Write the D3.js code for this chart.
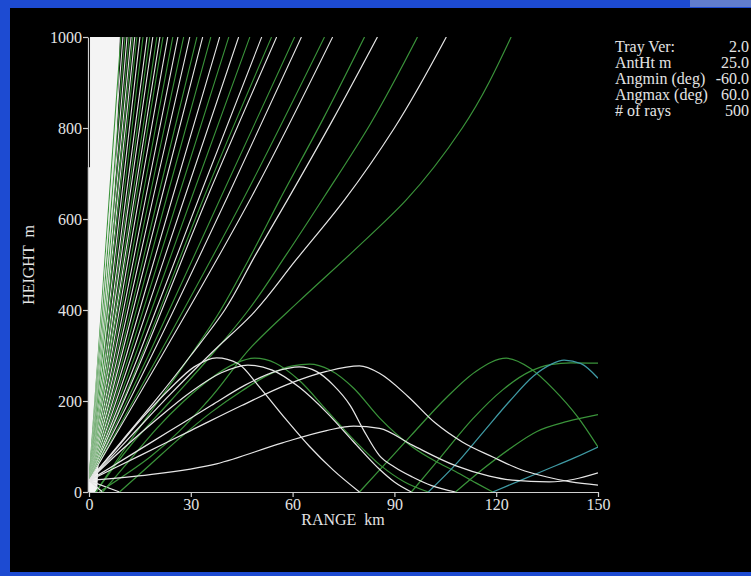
<!DOCTYPE html>
<html>
<head>
<meta charset="utf-8">
<script src="https://cdn.jsdelivr.net/npm/d3@7"></script>
<style>
  html, body { margin: 0; padding: 0; background: #000; }
  svg { display: block; }
  text { font-family: "Liberation Serif", "Times New Roman", serif; fill: #e4e4e4; }
</style>
</head>
<body>
<svg id="chart" width="751" height="576"></svg>
<script>
// ---- Axis ticks -----------------------------------------------------------
const rangeTicks = [0, 30, 60, 90, 120, 150];          // km
const heightTicks = [0, 200, 400, 600, 800, 1000];     // m

// ---- Run parameters shown in the side panel -------------------------------
const infoLabels = ["Tray Ver:", "AntHt m", "Angmin (deg)", "Angmax (deg)", "# of rays"];
const infoValues = ["2.0", "25.0", "-60.0", "60.0", "500"];

// ---- Saturated area where the steep rays overlap (km, m) -------------------
const denseFanEdge = [[-0.35, 0], [2.4, 0], [3.8, 200], [6.8, 554], [8.2, 774], [9.1, 1000],
                      [0.3, 1000], [0.3, 714], [-0.35, 714]];

// ---- Escaping rays: range (km) where each ray passes these heights ---------
const fanHeights = [25, 300, 650, 1000];
const fanRangeKm = [
  [0, 2.7, 6.0, 9.4], [0, 2.85, 6.4, 10.0], [0, 3.0, 6.8, 10.6], [0, 3.2, 7.2, 11.2],
  [0, 3.35, 7.55, 11.8], [0, 3.5, 7.9, 12.4], [0, 3.7, 8.25, 12.9], [0, 3.85, 8.6, 13.5],
  [0, 4.0, 9.0, 14.1], [0, 4.3, 9.6, 15.0], [0, 4.5, 10.2, 15.9], [0, 4.9, 10.9, 17.1],
  [0, 5.1, 11.5, 17.9], [0, 5.4, 12.0, 18.8], [0, 5.7, 12.8, 20.0], [0, 6.0, 13.4, 20.9],
  [0, 6.2, 14.0, 21.8], [0, 6.6, 14.8, 23.2], [0, 7.0, 15.8, 24.7], [0, 7.5, 16.8, 26.2],
  [0, 8.0, 17.9, 27.9], [0, 8.5, 19.0, 29.7], [0, 9.1, 20.4, 31.8], [0, 9.6, 21.5, 33.5],
  [0, 10.3, 23.0, 35.9], [0, 11.0, 24.7, 38.5], [0, 11.8, 26.4, 41.2], [0, 12.6, 28.3, 44.1],
  [0, 13.6, 30.4, 47.4], [0, 14.6, 32.6, 50.9], [0, 15.5, 34.0, 53.8], [0, 16.0, 35.0, 55.3],
  [0, 17.5, 39.0, 60.6], [0, 18.5, 40.9, 62.6], [0, 20.5, 45.9, 69.4], [0, 21.5, 48.0, 71.8]
];
// g = ray reflected once from the ground, w = direct ray
const fanKind = ["g","w","g","w","g","w","g","w","g","w","g","w","g","w","g","w","g","w",
                 "g","w","g","w","g","w","g","w","g","w","g","w","g","w","g","w","g","w"];

// Lowest escaping rays (km, m)
const escape1 = [[2, 0], [11, 100], [20, 195], [29, 290], [38, 390], [47, 510], [56.2, 642], [69, 820], [81.2, 1000]];
const escape2 = [[0, 25], [10, 115], [20, 205], [30, 300], [40, 400], [49, 520], [58.5, 642], [72, 820], [85, 1000]];
const escape3 = [[2, 0], [12, 100], [24, 200], [36, 300], [47, 400], [58, 520], [69.4, 650], [83, 810], [96.8, 1000]];
const escape4 = [[0, 25], [12, 120], [24, 215], [36, 305], [48, 390], [61, 510], [75.3, 642], [90, 800], [105.3, 1000]];
const escape5 = [[3, 0], [18, 77], [35, 200], [48, 320], [62, 420], [78, 530], [93.5, 642], [110, 800], [124.4, 1000]];

// Trapped rays (km, m): one leg per ground hop
const downLeg1 = [[0, 25], [4, 0]];
const downLeg2 = [[0, 25], [9, 0]];
const hopA  = [[0, 25], [8, 95], [16, 165], [24, 228], [31, 275], [37.6, 295], [44, 282], [50.3, 230], [58, 160], [65, 100], [72, 48], [79.7, 0]];
const hopA2 = [[79.7, 0], [85.6, 48], [95, 125], [105, 205], [114, 265], [123, 294], [130, 272], [137, 225], [144, 165], [150, 99]];
const hopB  = [[0, 25], [10, 95], [20, 160], [30, 220], [39, 262], [46.8, 279], [54, 268], [62, 230], [70, 175], [78, 110], [85.6, 50], [90, 22], [95, 0]];
const hopB2 = [[95, 0], [104, 80], [113, 160], [122, 225], [130, 265], [136, 280], [142, 284], [150, 283]];
const hopC  = [[4, 0], [12, 70], [20, 140], [28, 200], [36, 250], [43, 282], [48.8, 294], [55, 283], [62, 245], [70, 180], [78, 115], [86, 58], [93, 22], [100, 0]];
const hopC2 = [[100, 0], [108, 60], [116, 130], [124, 200], [131, 255], [136, 280], [140, 290], [145, 282], [150, 250]];
const hopD  = [[0, 25], [12, 80], [24, 135], [36, 190], [46, 235], [55, 265], [62, 275], [67, 265], [72, 235], [77, 190], [81, 135], [85.6, 80], [90, 55], [95.3, 33], [101, 14], [108, 0]];
const hopD2 = [[108, 0], [116, 50], [124, 95], [132, 133], [141, 155], [150, 170]];
const hopE  = [[9, 0], [18, 60], [27, 120], [36, 175], [45, 222], [53, 258], [60, 277], [65, 281], [71, 268], [78, 228], [85.6, 163], [95.3, 99], [102, 68], [108, 45], [114, 20], [119, 0]];
const hopE2 = [[119, 0], [127, 25], [135, 50], [143, 75], [150, 99]];
const hopF  = [[0, 25], [15, 80], [30, 135], [45, 190], [58, 235], [70, 265], [79.7, 277], [85.6, 261], [94, 210], [102, 152], [110, 110], [119, 77], [127, 50], [135, 33], [142, 22], [150, 15]];
const hopG  = [[0, 25], [18, 38], [37.6, 62], [57, 108], [70, 135], [78, 145], [85.6, 140], [95.3, 103], [108, 58], [118, 35], [124.7, 26], [135.6, 22], [143, 28], [150, 42]];

// ---- Drawing ----------------------------------------------------------------
const W = 751, H = 576;
const svg = d3.select("#chart");

const rayColor = { w: "#e6e6e6", g: "#3a933a", c: "#3f9aa4" };

// window frame
svg.append("rect").attr("width", W).attr("height", H).attr("fill", "#1d4bd2");
svg.append("rect").attr("x", 690).attr("y", 0).attr("width", 61).attr("height", 7).attr("fill", "#8f9fc8").attr("opacity", 0.6);
svg.append("rect").attr("x", 10).attr("y", 8).attr("width", W - 10).attr("height", 564).attr("fill", "#000");

const x = d3.scaleLinear().domain([0, 150]).range([89, 598]);
const y = d3.scaleLinear().domain([0, 1000]).range([492, 37]);

svg.append("clipPath").attr("id", "plotClip")
  .append("rect")
  .attr("x", x(0) - 3).attr("y", y(1000))
  .attr("width", x(150) - x(0) + 3).attr("height", y(0) - y(1000) + 1);

const plot = svg.append("g").attr("clip-path", "url(#plotClip)");

// saturated fan core
plot.append("path")
  .datum(denseFanEdge)
  .attr("d", d3.line().x(d => x(d[0])).y(d => y(d[1])))
  .attr("fill", "#f4f4f4");

const lineX = d3.line().x(d => x(d[0])).y(d => y(d[1])).curve(d3.curveMonotoneX);
const lineY = d3.line().x(d => x(d[0])).y(d => y(d[1])).curve(d3.curveMonotoneY);

// steep escaping rays
fanRangeKm.forEach((r, i) => {
  const pts = r.map((km, j) => [km, fanHeights[j]]);
  plot.append("path")
    .datum(pts)
    .attr("d", lineY)
    .attr("fill", "none")
    .attr("stroke", rayColor[fanKind[i]])
    .attr("stroke-width", 1.1);
});

// low escaping rays
[[escape1, "g"], [escape2, "w"], [escape3, "g"], [escape4, "w"], [escape5, "g"]].forEach(([pts, k]) => {
  plot.append("path")
    .datum(pts)
    .attr("d", lineY)
    .attr("fill", "none")
    .attr("stroke", rayColor[k])
    .attr("stroke-width", 1.2);
});

// trapped rays
const trapped = [
  [downLeg1, "w"], [downLeg2, "w"],
  [hopC, "g"], [hopE, "g"], [hopA2, "g"], [hopB2, "g"], [hopD2, "g"],
  [hopC2, "c"], [hopE2, "c"],
  [hopA, "w"], [hopB, "w"], [hopD, "w"], [hopF, "w"], [hopG, "w"]
];
trapped.forEach(([pts, k]) => {
  plot.append("path")
    .datum(pts)
    .attr("d", lineX)
    .attr("fill", "none")
    .attr("stroke", rayColor[k])
    .attr("stroke-width", 1.25);
});

// axes
const xAxis = svg.append("g")
  .attr("transform", `translate(0,${y(0)})`)
  .call(d3.axisBottom(x).tickValues(rangeTicks).tickSize(5).tickSizeOuter(0).tickFormat(d3.format("d")));
const yAxis = svg.append("g")
  .attr("transform", `translate(${x(0) - 1},0)`)
  .call(d3.axisLeft(y).tickValues(heightTicks).tickSize(5).tickSizeOuter(0).tickFormat(d3.format("d")));

[xAxis, yAxis].forEach(a => {
  a.selectAll("path.domain").attr("stroke", "#d0d0d0").attr("stroke-width", 1.2);
  a.selectAll(".tick line").attr("stroke", "#d0d0d0").attr("stroke-width", 1.2);
  a.selectAll(".tick text")
    .attr("fill", "#e4e4e4")
    .style("font-family", '"Liberation Serif", "Times New Roman", serif')
    .style("font-size", "16px");
});
xAxis.selectAll(".tick text").attr("y", 7);
yAxis.selectAll(".tick text").attr("x", -6);

// axis titles
svg.append("text")
  .attr("x", 343).attr("y", 525)
  .attr("text-anchor", "middle")
  .style("font-size", "16px")
  .style("white-space", "pre")
  .text("RANGE  km");

svg.append("text")
  .attr("transform", "translate(34,265) rotate(-90)")
  .attr("text-anchor", "middle")
  .style("font-size", "16px")
  .style("white-space", "pre")
  .text("HEIGHT  m");

// parameter panel
const panel = svg.append("g").style("font-size", "16px");
infoLabels.forEach((lab, i) => {
  panel.append("text").attr("x", 615).attr("y", 52 + i * 16).text(lab);
});
infoValues.forEach((v, i) => {
  panel.append("text")
    .attr("x", 749)
    .attr("y", 52 + i * 16)
    .attr("text-anchor", "end")
    .text(v);
});
</script>
</body>
</html>
